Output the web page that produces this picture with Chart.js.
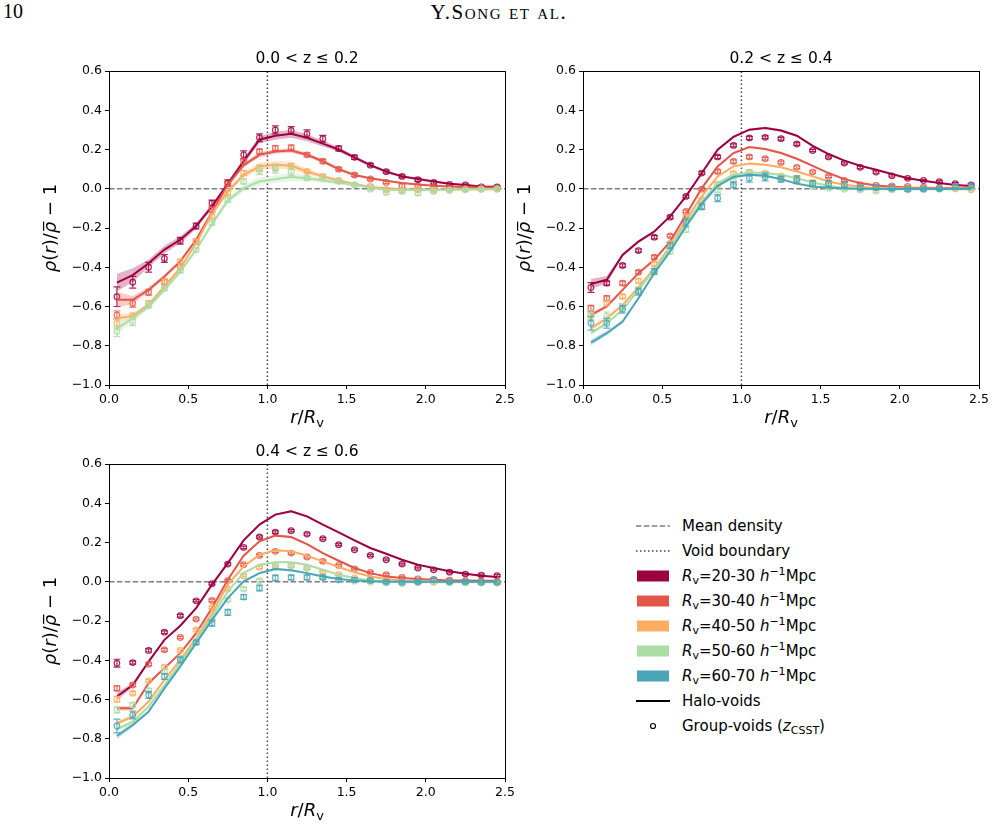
<!DOCTYPE html>
<html>
<head>
<meta charset="utf-8">
<script src="https://cdn.jsdelivr.net/npm/chart.js@4.4.1/dist/chart.umd.min.js"></script>
<style>
  body { margin: 0; background: #fff; width: 995px; height: 828px; position: relative; overflow: hidden; font-family: "DejaVu Sans", sans-serif; }
  canvas { position: absolute; }
  #pnum { position: absolute; left: 3px; top: 0px; font: 20px "Liberation Serif", "DejaVu Serif", serif; }
  #runhead { position: absolute; left: 0; width: 998px; top: 0px; text-align: center; font: 21px "Liberation Serif", "DejaVu Serif", serif; font-variant: small-caps; letter-spacing: 1.6px; }
  #legend { position: absolute; left: 636px; top: 513px; font-size: 15px; color: #000; }
  #legend .row { height: 25.1px; display: flex; align-items: center; white-space: nowrap; }
  #legend svg { width: 34px; height: 14px; margin-right: 12px; flex: none; }
  #legend sub, #legend sup { font-size: 11px; line-height: 0; }
  #legend sup { vertical-align: 6px; }
  #legend sub { vertical-align: -3px; }
</style>
</head>
<body>
<div id="pnum">10</div>
<div id="runhead">Y.Song et al.</div>

<canvas id="c1" width="520" height="400" style="left:0px;top:30px"></canvas>
<canvas id="c2" width="520" height="400" style="left:474px;top:30px"></canvas>
<canvas id="c3" width="520" height="400" style="left:0px;top:423px"></canvas>

<div id="legend"></div>

<script>
// radial bins r/Rv
const rBins = [0.05, 0.15, 0.25, 0.35, 0.45, 0.55, 0.65, 0.75, 0.85, 0.95, 1.05, 1.15, 1.25,
               1.35, 1.45, 1.55, 1.65, 1.75, 1.85, 1.95, 2.05, 2.15, 2.25, 2.35, 2.45];
const binLabels = ["20-30", "30-40", "40-50", "50-60", "60-70"];
const binColors = ["#9e0142", "#e4564a", "#fdad61", "#abdda4", "#4aa5b6"];
const panelTitles = ["0.0 < z \u2264 0.2", "0.2 < z \u2264 0.4", "0.4 < z \u2264 0.6"];

// ---- 0.0 < z <= 0.2 ----
const halo1_20 = [-0.478,-0.44,-0.38,-0.31,-0.26,-0.19,-0.09,0.025,0.14,0.25,0.27,0.28,0.26,0.23,0.20,0.16,0.12,0.087,0.063,0.05,0.037,0.025,0.019,0.012,0.01];
const group1_20 = [-0.55,-0.476,-0.40,-0.355,-0.265,-0.19,-0.073,0.03,0.173,0.26,0.30,0.297,0.28,0.255,0.205,0.16,0.12,0.087,0.063,0.046,0.032,0.022,0.019,0.01,0.009];
const halo1_30 = [-0.566,-0.566,-0.515,-0.447,-0.37,-0.26,-0.12,0.02,0.12,0.173,0.19,0.195,0.173,0.14,0.10,0.07,0.053,0.041,0.029,0.022,0.015,0.012,0.009,0.007,0.007];
const group1_30 = [-0.643,-0.583,-0.527,-0.476,-0.396,-0.269,-0.107,0.025,0.14,0.19,0.207,0.21,0.173,0.14,0.10,0.07,0.05,0.032,0.015,0.012,0.007,0.003,0.002,0.002,0.002];
const halo1_40 = [-0.66,-0.648,-0.592,-0.498,-0.405,-0.277,-0.128,-0.014,0.071,0.114,0.122,0.117,0.088,0.063,0.042,0.024,0.009,0.002,-0.002,-0.004,-0.005,-0.004,-0.003,-0.002,-0.002];
const group1_40 = [-0.685,-0.648,-0.583,-0.473,-0.371,-0.269,-0.141,-0.022,0.08,0.105,0.11,0.115,0.088,0.063,0.042,0.02,0.012,-0.005,-0.007,-0.005,-0.007,-0.006,-0.004,-0.003,-0.002];
const halo1_50 = [-0.711,-0.66,-0.60,-0.515,-0.422,-0.311,-0.18,-0.06,0.003,0.037,0.049,0.06,0.054,0.042,0.032,0.02,0.007,-0.005,-0.007,-0.007,-0.006,-0.005,-0.004,-0.003,-0.003];
const group1_50 = [-0.728,-0.677,-0.595,-0.507,-0.417,-0.311,-0.175,-0.056,0.037,0.092,0.10,0.088,0.054,0.054,0.037,0.02,-0.002,-0.019,-0.014,-0.022,-0.014,-0.009,-0.005,-0.002,-0.001];
const err1_20 = [0.05,0.03,0.025,0.02,0.017,0.015,0.015,0.015,0.02,0.02,0.02,0.02,0.02,0.017,0.012,0.01,0.008,0.008,0.008,0.008,0.008,0.006,0.006,0.005,0.005];
const err1_30 = [0.02,0.02,0.015,0.015,0.015,0.012,0.012,0.012,0.012,0.012,0.012,0.012,0.01,0.01,0.008,0.008,0.006,0.006,0.01,0.01,0.008,0.006,0.005,0.005,0.005];
const err1_40 = [0.025,0.015,0.012,0.012,0.012,0.01,0.01,0.01,0.012,0.015,0.015,0.015,0.01,0.01,0.008,0.006,0.006,0.01,0.01,0.008,0.008,0.006,0.005,0.005,0.005];
const err1_50 = [0.025,0.02,0.012,0.012,0.012,0.01,0.01,0.012,0.012,0.02,0.02,0.02,0.01,0.012,0.01,0.008,0.008,0.01,0.008,0.012,0.008,0.006,0.005,0.005,0.005];
const band1_20 = [0.045,0.035,0.02,0.02,0.018,0.015,0.012,0.012,0.015,0.018,0.02,0.02,0.018,0.015,0.012,0.01,0.008,0.008,0.007,0.006,0.005,0.005,0.004,0.004,0.004];
const band1_30 = [0.04,0.02,0.012,0.01,0.01,0.01,0.01,0.01,0.012,0.012,0.012,0.012,0.01,0.01,0.008,0.006,0.005,0.005,0.004,0.004,0.004,0.003,0.003,0.003,0.003];
const band1_40 = [0.02,0.015,0.012,0.01,0.01,0.01,0.01,0.012,0.015,0.018,0.02,0.02,0.015,0.01,0.008,0.006,0.005,0.005,0.004,0.004,0.004,0.003,0.003,0.003,0.003];
const band1_50 = [0.025,0.02,0.015,0.012,0.01,0.01,0.012,0.015,0.018,0.02,0.02,0.02,0.015,0.012,0.01,0.008,0.006,0.005,0.004,0.004,0.004,0.003,0.003,0.003,0.003];

// ---- 0.2 < z <= 0.4 ----
const halo2_20 = [-0.485,-0.464,-0.337,-0.269,-0.218,-0.141,-0.039,0.08,0.199,0.264,0.301,0.31,0.297,0.27,0.219,0.177,0.143,0.117,0.097,0.075,0.054,0.041,0.029,0.019,0.014];
const group2_20 = [-0.503,-0.481,-0.391,-0.315,-0.247,-0.145,-0.039,0.08,0.162,0.221,0.259,0.262,0.255,0.228,0.195,0.162,0.131,0.109,0.085,0.066,0.053,0.042,0.036,0.026,0.02];
const halo2_30 = [-0.643,-0.60,-0.515,-0.43,-0.362,-0.269,-0.133,0.003,0.114,0.182,0.213,0.202,0.182,0.153,0.117,0.08,0.049,0.029,0.017,0.01,0.006,0.005,0.004,0.003,0.003];
const group2_30 = [-0.609,-0.558,-0.481,-0.425,-0.349,-0.24,-0.116,-0.002,0.088,0.139,0.162,0.153,0.134,0.109,0.085,0.063,0.042,0.02,0.017,0.015,0.012,0.008,0.006,0.006,0.005];
const halo2_40 = [-0.711,-0.66,-0.592,-0.503,-0.405,-0.294,-0.158,-0.039,0.063,0.114,0.128,0.122,0.11,0.088,0.063,0.037,0.02,0.01,0.003,0.002,0.001,0.001,0.0,0.0,0.0];
const group2_40 = [-0.651,-0.583,-0.549,-0.469,-0.383,-0.277,-0.141,-0.056,0.024,0.077,0.085,0.08,0.066,0.054,0.032,0.02,0.012,0.008,0.003,0.002,0.002,-0.001,-0.001,-0.001,-0.005];
const halo2_50 = [-0.736,-0.685,-0.617,-0.515,-0.413,-0.303,-0.175,-0.065,0.029,0.071,0.083,0.08,0.071,0.054,0.032,0.015,0.003,-0.002,-0.003,-0.003,-0.003,-0.002,-0.002,-0.002,-0.002];
const group2_50 = [-0.643,-0.648,-0.60,-0.515,-0.417,-0.32,-0.209,-0.095,-0.005,0.037,0.08,0.071,0.054,0.046,0.012,0.003,-0.002,-0.007,-0.012,-0.007,-0.005,-0.001,-0.001,0.002,0.002];
const halo2_60 = [-0.784,-0.736,-0.677,-0.558,-0.43,-0.32,-0.192,-0.077,0.015,0.06,0.071,0.066,0.049,0.026,0.012,0.005,0.002,0.0,0.0,-0.001,-0.001,-0.001,-0.001,-0.001,-0.001];
const group2_60 = [-0.685,-0.685,-0.614,-0.524,-0.422,-0.289,-0.17,-0.09,-0.048,0.02,0.054,0.06,0.049,0.046,0.026,0.026,0.02,0.005,0.006,0.002,-0.002,-0.002,0.0,0.012,0.015];
const err2_20 = [0.025,0.01,0.008,0.008,0.008,0.007,0.007,0.007,0.008,0.008,0.008,0.007,0.007,0.007,0.006,0.006,0.006,0.006,0.006,0.006,0.005,0.005,0.005,0.005,0.005];
const err2_30 = [0.015,0.012,0.01,0.008,0.008,0.007,0.007,0.007,0.008,0.008,0.008,0.007,0.007,0.007,0.006,0.006,0.006,0.006,0.006,0.006,0.005,0.005,0.005,0.005,0.005];
const err2_40 = [0.02,0.012,0.01,0.01,0.01,0.008,0.008,0.008,0.01,0.01,0.01,0.008,0.008,0.008,0.007,0.007,0.006,0.006,0.006,0.006,0.006,0.005,0.005,0.005,0.005];
const err2_50 = [0.025,0.02,0.015,0.015,0.012,0.012,0.012,0.012,0.015,0.015,0.015,0.015,0.012,0.012,0.01,0.008,0.008,0.008,0.008,0.008,0.008,0.007,0.007,0.006,0.006];
const err2_60 = [0.035,0.025,0.02,0.018,0.015,0.015,0.02,0.015,0.018,0.015,0.02,0.02,0.015,0.02,0.015,0.015,0.012,0.01,0.01,0.01,0.01,0.008,0.008,0.008,0.008];
const band2_20 = [0.025,0.02,0.008,0.007,0.006,0.006,0.006,0.006,0.006,0.006,0.006,0.006,0.006,0.005,0.005,0.005,0.004,0.004,0.004,0.004,0.003,0.003,0.003,0.003,0.003];
const band2_30 = [0.01,0.008,0.006,0.005,0.005,0.005,0.005,0.005,0.005,0.005,0.005,0.005,0.005,0.004,0.004,0.004,0.003,0.003,0.003,0.003,0.003,0.003,0.003,0.003,0.003];
const band2_40 = [0.012,0.008,0.006,0.005,0.005,0.005,0.005,0.005,0.005,0.005,0.005,0.005,0.005,0.004,0.004,0.004,0.003,0.003,0.003,0.003,0.003,0.003,0.003,0.003,0.003];
const band2_50 = [0.012,0.01,0.007,0.006,0.005,0.005,0.005,0.005,0.006,0.006,0.006,0.006,0.005,0.005,0.004,0.004,0.003,0.003,0.003,0.003,0.003,0.003,0.003,0.003,0.003];
const band2_60 = [0.015,0.012,0.008,0.007,0.006,0.006,0.006,0.006,0.006,0.006,0.006,0.006,0.005,0.005,0.004,0.004,0.004,0.003,0.003,0.003,0.003,0.003,0.003,0.003,0.003];

// ---- 0.4 < z <= 0.6 ----
const halo3_20 = [-0.585,-0.526,-0.407,-0.296,-0.224,-0.134,-0.015,0.095,0.211,0.291,0.342,0.359,0.333,0.291,0.252,0.211,0.172,0.143,0.112,0.087,0.07,0.053,0.041,0.031,0.024];
const group3_20 = [-0.415,-0.412,-0.35,-0.257,-0.173,-0.097,-0.01,0.09,0.175,0.228,0.253,0.26,0.243,0.219,0.189,0.163,0.134,0.112,0.09,0.07,0.061,0.049,0.039,0.034,0.031];
const halo3_30 = [-0.645,-0.645,-0.517,-0.44,-0.364,-0.262,-0.134,0.01,0.133,0.206,0.235,0.228,0.192,0.146,0.107,0.07,0.044,0.027,0.019,0.014,0.01,0.007,0.006,0.005,0.005];
const group3_30 = [-0.543,-0.526,-0.42,-0.347,-0.284,-0.19,-0.095,0.005,0.087,0.134,0.155,0.146,0.126,0.104,0.083,0.066,0.048,0.036,0.022,0.015,0.012,0.008,0.005,0.004,0.0];
const halo3_40 = [-0.721,-0.687,-0.611,-0.50,-0.398,-0.287,-0.16,-0.015,0.078,0.138,0.16,0.155,0.133,0.104,0.075,0.048,0.027,0.014,0.007,0.002,0.0,-0.001,-0.001,-0.001,-0.001];
const group3_40 = [-0.599,-0.568,-0.505,-0.435,-0.35,-0.245,-0.131,-0.037,0.031,0.073,0.082,0.082,0.07,0.049,0.036,0.019,0.014,0.007,0.0,0.0,-0.002,-0.003,-0.004,-0.005,-0.005];
const halo3_50 = [-0.752,-0.713,-0.636,-0.526,-0.415,-0.296,-0.177,-0.049,0.044,0.087,0.099,0.099,0.087,0.061,0.036,0.019,0.007,0.0,-0.002,-0.003,-0.003,-0.003,-0.003,-0.003,-0.003];
const group3_50 = [-0.653,-0.628,-0.554,-0.457,-0.389,-0.309,-0.194,-0.092,-0.037,0.005,0.075,0.082,0.07,0.022,0.01,0.003,-0.002,-0.007,-0.01,-0.005,-0.002,-0.005,-0.005,-0.005,-0.007];
const halo3_60 = [-0.786,-0.73,-0.662,-0.543,-0.432,-0.313,-0.194,-0.083,0.002,0.044,0.065,0.058,0.044,0.027,0.014,0.007,0.002,0.001,0.0,0.0,0.0,0.0,0.0,0.0,0.0];
const group3_60 = [-0.735,-0.679,-0.577,-0.483,-0.398,-0.309,-0.211,-0.156,-0.078,-0.032,0.019,0.022,0.022,0.022,0.01,0.01,0.007,-0.001,-0.003,-0.001,0.01,0.0,-0.001,-0.003,-0.003];
const err3_20 = [0.02,0.008,0.008,0.007,0.007,0.006,0.006,0.006,0.006,0.006,0.006,0.006,0.006,0.006,0.005,0.005,0.005,0.005,0.005,0.005,0.005,0.005,0.005,0.005,0.005];
const err3_30 = [0.012,0.008,0.007,0.007,0.006,0.006,0.006,0.006,0.006,0.006,0.006,0.006,0.006,0.006,0.005,0.005,0.005,0.005,0.005,0.005,0.005,0.005,0.005,0.005,0.005];
const err3_40 = [0.015,0.008,0.007,0.007,0.007,0.006,0.006,0.006,0.006,0.006,0.006,0.006,0.006,0.006,0.005,0.005,0.005,0.005,0.005,0.005,0.005,0.005,0.005,0.005,0.005];
const err3_50 = [0.015,0.012,0.01,0.01,0.008,0.008,0.008,0.008,0.008,0.008,0.008,0.008,0.007,0.007,0.007,0.006,0.006,0.006,0.006,0.006,0.006,0.006,0.006,0.006,0.006];
const err3_60 = [0.035,0.02,0.018,0.015,0.015,0.012,0.015,0.015,0.012,0.015,0.015,0.012,0.012,0.01,0.01,0.01,0.008,0.008,0.008,0.008,0.008,0.008,0.008,0.008,0.008];
const band3_20 = [0.02,0.01,0.006,0.005,0.005,0.005,0.005,0.005,0.005,0.005,0.005,0.005,0.005,0.004,0.004,0.004,0.003,0.003,0.003,0.003,0.003,0.003,0.003,0.003,0.003];
const band3_30 = [0.012,0.01,0.006,0.005,0.005,0.005,0.005,0.005,0.005,0.005,0.005,0.005,0.005,0.004,0.004,0.004,0.003,0.003,0.003,0.003,0.003,0.003,0.003,0.003,0.003];
const band3_40 = [0.012,0.008,0.006,0.005,0.005,0.005,0.005,0.005,0.005,0.005,0.005,0.005,0.005,0.004,0.004,0.004,0.003,0.003,0.003,0.003,0.003,0.003,0.003,0.003,0.003];
const band3_50 = [0.012,0.01,0.007,0.006,0.005,0.005,0.005,0.005,0.005,0.005,0.005,0.005,0.005,0.004,0.004,0.004,0.003,0.003,0.003,0.003,0.003,0.003,0.003,0.003,0.003];
const band3_60 = [0.015,0.012,0.008,0.007,0.006,0.006,0.006,0.006,0.006,0.006,0.006,0.006,0.005,0.005,0.004,0.004,0.004,0.003,0.003,0.003,0.003,0.003,0.003,0.003,0.003];

const panels = [
  { id: "c1", title: panelTitles[0],
    halo: [halo1_20, halo1_30, halo1_40, halo1_50], group: [group1_20, group1_30, group1_40, group1_50],
    err: [err1_20, err1_30, err1_40, err1_50], band: [band1_20, band1_30, band1_40, band1_50] },
  { id: "c2", title: panelTitles[1],
    halo: [halo2_20, halo2_30, halo2_40, halo2_50, halo2_60], group: [group2_20, group2_30, group2_40, group2_50, group2_60],
    err: [err2_20, err2_30, err2_40, err2_50, err2_60], band: [band2_20, band2_30, band2_40, band2_50, band2_60] },
  { id: "c3", title: panelTitles[2],
    halo: [halo3_20, halo3_30, halo3_40, halo3_50, halo3_60], group: [group3_20, group3_30, group3_40, group3_50, group3_60],
    err: [err3_20, err3_30, err3_40, err3_50, err3_60], band: [band3_20, band3_30, band3_40, band3_50, band3_60] }
];

function rgba(hex, a) {
  const n = parseInt(hex.slice(1), 16);
  return `rgba(${n >> 16},${(n >> 8) & 255},${n & 255},${a})`;
}
const pts = vals => vals.map((v, i) => ({ x: rBins[i], y: v }));
const fmt = v => {
  if (Math.abs(v) < 1e-9) return "0.0";
  return (v < 0 ? "\u2212" : "") + Math.abs(v).toFixed(1);
};

// error bars under the open circles
const errorBars = {
  id: "errorBars",
  beforeDatasetDraw(chart, args) {
    const ds = chart.data.datasets[args.index];
    if (!ds.errs) return;
    const { ctx, scales: { x, y } } = chart;
    ctx.save();
    ctx.strokeStyle = ds.borderColor;
    ctx.lineWidth = 1.2;
    ds.data.forEach((p, i) => {
      const px = x.getPixelForValue(p.x);
      const lo = y.getPixelForValue(p.y - ds.errs[i]);
      const hi = y.getPixelForValue(p.y + ds.errs[i]);
      ctx.beginPath();
      ctx.moveTo(px, lo); ctx.lineTo(px, hi);
      ctx.moveTo(px - 3.5, lo); ctx.lineTo(px + 3.5, lo);
      ctx.moveTo(px - 3.5, hi); ctx.lineTo(px + 3.5, hi);
      ctx.stroke();
    });
    ctx.restore();
  }
};

function drawRich(ctx, segs, x, y, size) {
  // segs: [text, style] ; style i = italic, n = normal, s = subscript
  const fontOf = st => st === "i" ? `italic ${size}px "DejaVu Sans"` :
                       st === "s" ? `${Math.round(size * 0.7)}px "DejaVu Sans"` : `${size}px "DejaVu Sans"`;
  let total = 0;
  segs.forEach(([t, st]) => { ctx.font = fontOf(st); total += ctx.measureText(t).width; });
  let cx = x - total / 2;
  ctx.textAlign = "left";
  segs.forEach(([t, st]) => {
    ctx.font = fontOf(st);
    ctx.fillText(t, cx, st === "s" ? y + 4 : y);
    cx += ctx.measureText(t).width;
  });
}

const panelDeco = {
  id: "panelDeco",
  afterDraw(chart, args, opts) {
    const { ctx, chartArea: a } = chart;
    ctx.save();
    ctx.strokeStyle = "#000";
    ctx.lineWidth = 1;
    ctx.strokeRect(Math.round(a.left) + 0.5, Math.round(a.top) + 0.5, Math.round(a.right - a.left), Math.round(a.bottom - a.top));
    ctx.fillStyle = "#000";
    ctx.textBaseline = "alphabetic";
    ctx.font = '15.5px "DejaVu Sans"';
    ctx.textAlign = "center";
    ctx.fillText(opts.title, (a.left + a.right) / 2, a.top - 8);
    drawRich(ctx, [["r", "i"], ["/", "n"], ["R", "i"], ["v", "s"]], (a.left + a.right) / 2, a.bottom + 38, 18);
    ctx.translate(a.left - 53, (a.top + a.bottom) / 2);
    ctx.rotate(-Math.PI / 2);
    drawRich(ctx, [["\u03c1", "i"], ["(", "n"], ["r", "i"], [")/", "n"], ["\u03c1\u0305", "i"], [" \u2212 1", "n"]], 0, 0, 18);
    ctx.restore();
  }
};

function buildChart(p) {
  const datasets = [];
  let order = 1000;
  datasets.push({ data: [{ x: 0, y: 0 }, { x: 2.5, y: 0 }], showLine: true, borderColor: "#7f7f7f", borderWidth: 1.5,
                  borderDash: [5.5, 2.4], pointRadius: 0, order: order-- });
  datasets.push({ data: [{ x: 1, y: -1 }, { x: 1, y: 0.6 }], showLine: true, borderColor: "#444", borderWidth: 1.5,
                  borderDash: [1.5, 2.5], pointRadius: 0, order: order-- });
  p.halo.forEach((vals, k) => {
    const col = binColors[k];
    datasets.push({ data: vals.map((v, i) => ({ x: rBins[i], y: v + p.band[k][i] })), showLine: true,
                    borderColor: "transparent", borderWidth: 1, pointRadius: 0, fill: false, order: order-- });
    datasets.push({ data: vals.map((v, i) => ({ x: rBins[i], y: v - p.band[k][i] })), showLine: true,
                    borderColor: "transparent", borderWidth: 1, pointRadius: 0, fill: "-1",
                    backgroundColor: rgba(col, 0.3), order: order-- });
    datasets.push({ label: "Halo-voids " + binLabels[k], data: pts(vals), showLine: true, borderColor: col,
                    borderWidth: 2, pointRadius: 0, tension: 0, fill: false, order: order-- });
    datasets.push({ label: "Group-voids " + binLabels[k], data: pts(p.group[k]), errs: p.err[k], showLine: false,
                    borderColor: rgba(col, 0.85), pointBorderColor: rgba(col, 0.85), pointBackgroundColor: "rgba(255,255,255,0)",
                    pointRadius: 2.8, pointBorderWidth: 1.2, order: order-- });
  });

  const tickFont = { family: "DejaVu Sans", size: 12.5 };
  new Chart(document.getElementById(p.id), {
    type: "scatter",
    data: { datasets },
    options: {
      responsive: false, animation: false, devicePixelRatio: 1,
      layout: { padding: { left: 0, right: 15, top: 41, bottom: 0 } },
      plugins: { legend: { display: false }, tooltip: { enabled: false }, panelDeco: { title: p.title } },
      scales: {
        x: { type: "linear", min: 0, max: 2.5,
             ticks: { stepSize: 0.5, color: "#000", font: tickFont, padding: 3, callback: fmt, maxRotation: 0 },
             grid: { drawOnChartArea: false, tickLength: 4, color: "#000", lineWidth: 1 },
             border: { color: "#000", width: 1 },
             afterFit: s => { s.height = 45; } },
        y: { type: "linear", min: -1, max: 0.6,
             ticks: { stepSize: 0.2, color: "#000", font: tickFont, padding: 3, callback: fmt },
             grid: { drawOnChartArea: false, tickLength: 4, color: "#000", lineWidth: 1 },
             border: { color: "#000", width: 1 },
             afterFit: s => { s.width = 109; } }
      }
    },
    plugins: [errorBars, panelDeco]
  });
}

panels.forEach(buildChart);

// legend
const legendRows = [
  [`<line x1="0" y1="7" x2="34" y2="7" stroke="#7f7f7f" stroke-width="1.5" stroke-dasharray="5.5 2.4"/>`, `Mean density`],
  [`<line x1="0" y1="7" x2="34" y2="7" stroke="#444" stroke-width="1.5" stroke-dasharray="1.5 2.5"/>`, `Void boundary`],
  ...binLabels.map((lab, k) =>
    [`<rect x="1" y="1.5" width="32" height="11" fill="${binColors[k]}"/>`,
     `<i>R</i><sub>v</sub>=${lab} <i>h</i><sup>\u22121</sup>Mpc`]),
  [`<line x1="0" y1="7" x2="34" y2="7" stroke="#000" stroke-width="2"/>`, `Halo-voids`],
  [`<circle cx="17" cy="7" r="2.5" fill="none" stroke="#000" stroke-width="1.2"/>`, `Group-voids (<i>z</i><sub>CSST</sub>)`]
];
document.getElementById("legend").innerHTML =
  legendRows.map(([mark, text]) => `<div class="row"><svg>${mark}</svg><span>${text}</span></div>`).join("");
</script>
</body>
</html>
